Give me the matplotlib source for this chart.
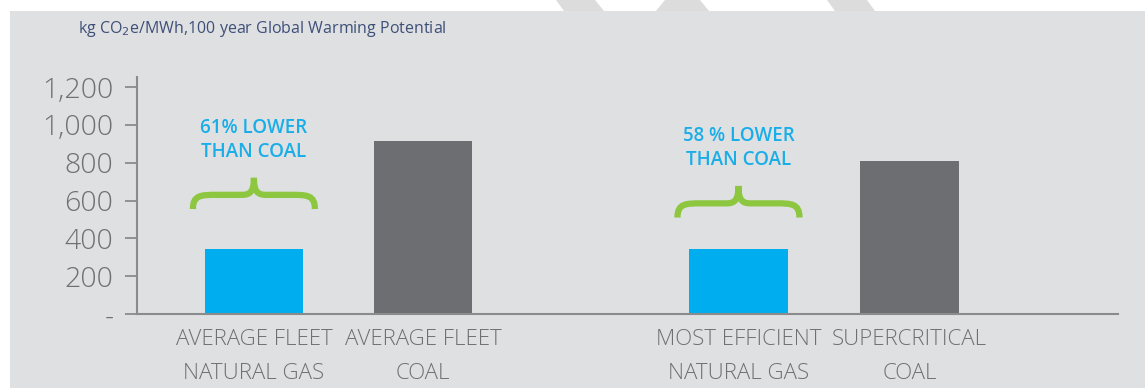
import numpy as np
import matplotlib.pyplot as plt
from matplotlib.path import Path
from matplotlib.patches import PathPatch, Rectangle, Polygon
from matplotlib.ticker import FuncFormatter

# data
categories = ['AVERAGE FLEET\nNATURAL GAS', 'AVERAGE FLEET\nCOAL',
              'MOST EFFICIENT\nNATURAL GAS', 'SUPERCRITICAL\nCOAL']
emissions = [344, 914, 344, 809]
notes = ['61% LOWER\nTHAN COAL', '58 % LOWER\nTHAN COAL']
y_ticks = [0, 200, 400, 600, 800, 1000, 1200]

blue = '#00aeef'
dark = '#6d6e71'
green = '#8dc63f'
bg = '#dfe0e2'
label_gray = '#6f7073'

plt.rcParams['font.family'] = ['Open Sans', 'DejaVu Sans']

fig = plt.figure(figsize=(11.45, 3.88), dpi=100)
fig.patch.set_facecolor('white')
fig.patches.append(Rectangle((10 / 1145, 0), 1, 1 - 11 / 388, transform=fig.transFigure,
                             facecolor=bg, edgecolor='none', zorder=-10))
# faint slashes in the white strip above the panel
for pts in [[(556, 0), (595, 0), (604, 11), (564, 11)],
            [(665, 0), (700, 0), (709, 11), (656, 11)],
            [(827, 0), (867, 0), (875, 11), (835, 11)]]:
    fig.patches.append(Polygon([(x / 1145, 1 - y / 388) for x, y in pts], closed=True,
                               transform=fig.transFigure, facecolor='#dcdcdc',
                               edgecolor='none', zorder=-9))

ax = fig.add_axes([137 / 1145, 1 - 314 / 388, (1118 - 137) / 1145, (314 - 77) / 388])
ax.set_facecolor('none')

xpos = [0, 1, 2.86, 3.87]
colors = [blue, dark, blue, dark]
ax.bar(xpos, emissions, width=0.58, color=colors, zorder=2)

ax.set_xlim(-0.69, 5.10)
ax.set_ylim(0, 1253)
ax.set_yticks(y_ticks)
ax.yaxis.set_major_formatter(FuncFormatter(lambda v, p: '-' if v == 0 else f'{v:,.0f}'))
ax.tick_params(axis='y', direction='out', length=9, width=1.3, color='#8a8b8d',
               labelsize=20.5, labelcolor=label_gray, pad=8)
for lab in ax.get_yticklabels():
    lab.set_fontweight('light')

ax.set_xticks(xpos)
ax.set_xticklabels(categories, fontsize=16, color=label_gray, fontweight='light',
                   linespacing=1.8)
ax.tick_params(axis='x', length=0, pad=11)

for s in ['top', 'right']:
    ax.spines[s].set_visible(False)
ax.spines['left'].set_color('#8a8b8d')
ax.spines['left'].set_linewidth(1.5)
ax.spines['bottom'].set_color('#8a8b8d')
ax.spines['bottom'].set_linewidth(1.5)


def brace(xc, half, y_end, y_mid, y_tip):
    x0, x1 = xc - half, xc + half
    verts = [(x0, y_end),
             (x0, y_mid), (x0 + 0.05, y_mid), (x0 + 0.14, y_mid),
             (xc - 0.07, y_mid),
             (xc - 0.02, y_mid), (xc, y_mid + 20), (xc, y_tip),
             (xc, y_mid + 20), (xc + 0.02, y_mid), (xc + 0.07, y_mid),
             (x1 - 0.14, y_mid),
             (x1 - 0.05, y_mid), (x1, y_mid), (x1, y_end)]
    codes = [Path.MOVETO,
             Path.CURVE4, Path.CURVE4, Path.CURVE4,
             Path.LINETO,
             Path.CURVE4, Path.CURVE4, Path.CURVE4,
             Path.CURVE4, Path.CURVE4, Path.CURVE4,
             Path.LINETO,
             Path.CURVE4, Path.CURVE4, Path.CURVE4]
    ax.add_patch(PathPatch(Path(verts, codes), facecolor='none', edgecolor=green,
                           lw=4.5, capstyle='butt', zorder=3))


brace(0, 0.36, 555, 630, 720)
brace(2.86, 0.36, 510, 585, 677)

ax.text(0, 920, notes[0], ha='center', va='center', color='#1aaee8', fontsize=13.5,
        linespacing=1.3, fontweight='semibold')
ax.text(2.86, 877, notes[1], ha='center', va='center', color='#1aaee8', fontsize=13.5,
        linespacing=1.3, fontweight='semibold')

fig.text(78 / 1145, 1 - 29 / 388, 'kg CO$_2$e/MWh,100 year Global Warming Potential',
         ha='left', va='center', fontsize=11.5, color='#3e4f78')

fig.savefig('out.png', dpi=100, facecolor=fig.get_facecolor())
